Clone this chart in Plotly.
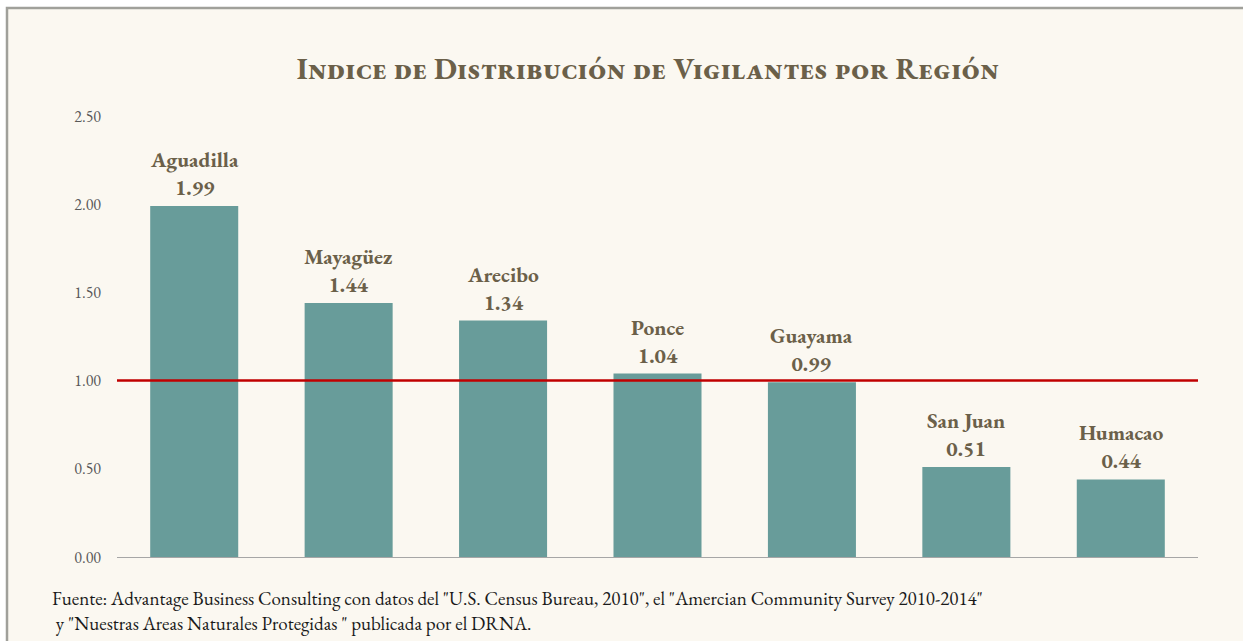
import plotly.graph_objects as go

regiones = ["Aguadilla", "Mayagüez", "Arecibo", "Ponce", "Guayama", "San Juan", "Humacao"]
indice = [1.99, 1.44, 1.34, 1.04, 0.99, 0.51, 0.44]
referencia = 1.0
y_ticks = [0.0, 0.5, 1.0, 1.5, 2.0, 2.5]
y_tick_labels = ["0.00", "0.50", "1.00", "1.50", "2.00", "2.50"]

titulo = "Indice de Distribución de Vigilantes por Región"
fuente = ('Fuente: Advantage Business Consulting con datos del "U.S. Census Bureau, 2010", '
          'el "Amercian Community Survey 2010-2014"<br>'
          ' y "Nuestras Areas Naturales Protegidas " publicada por el DRNA.')

SERIF = "EB Garamond, Garamond, Liberation Serif, serif"
CREAM = "#FBF8F1"
LABEL = "#6B6049"

fig = go.Figure()
fig.add_trace(go.Bar(
    x=regiones,
    y=indice,
    marker=dict(color="#689C9A", line=dict(width=0)),
    width=0.57,
    hoverinfo="skip",
))

W, H = 1243, 641
ml, mr, mt, mb = 117, 45, 116, 84
pw, ph = W - ml - mr, H - mt - mb

def px_x(x):
    return (x - ml) / pw

def px_y(y):
    return 1 - (y - mt) / ph

shapes = [
    # cream panel with grey frame
    dict(type="rect", xref="paper", yref="paper", layer="below",
         x0=px_x(7), x1=px_x(1260), y0=px_y(660), y1=px_y(8),
         fillcolor=CREAM, line=dict(color="#A0A09A", width=2.5)),
    # reference line at 1.0
    dict(type="line", xref="paper", yref="y", x0=0, x1=1, y0=referencia, y1=referencia,
         line=dict(color="#C00000", width=2.5), layer="above"),
]

# region name and value above each bar
annotations = [
    dict(x=r, y=v, xref="x", yref="y", text=f"<b>{r}<br>{v:.2f}</b>",
         xanchor="center", yanchor="middle", yshift=33, showarrow=False,
         font=dict(family=SERIF, size=21.5, color=LABEL))
    for r, v in zip(regiones, indice)
]

annotations.append(dict(
    text=fuente, xref="paper", yref="paper",
    x=px_x(50), y=px_y(611), xanchor="left", yanchor="middle",
    align="left", showarrow=False,
    font=dict(family=SERIF, size=19, color="#1A1A1A"),
))

fig.update_layout(
    width=W, height=H,
    margin=dict(l=ml, r=mr, t=mt, b=mb),
    paper_bgcolor="white",
    plot_bgcolor="rgba(0,0,0,0)",
    showlegend=False,
    shapes=shapes,
    annotations=annotations,
    title=dict(
        text=f"<b>{titulo}</b>",
        x=648 / W, xanchor="center", xref="container",
        y=1 - 68 / H, yanchor="middle",
        font=dict(family=SERIF, size=30, color=LABEL, variant="small-caps"),
    ),
    xaxis=dict(
        showticklabels=False, ticks="", showgrid=False,
        showline=True, linecolor="#A6A6A6", linewidth=1,
        range=[-0.5, len(regiones) - 0.5],
    ),
    yaxis=dict(
        range=[0, 2.5], tickvals=y_ticks, ticktext=y_tick_labels,
        showgrid=False, zeroline=False, showline=False,
        ticks="", ticklabelstandoff=15,
        tickfont=dict(family=SERIF, size=16, color="#595959"),
    ),
)

fig.write_html("out.html")
